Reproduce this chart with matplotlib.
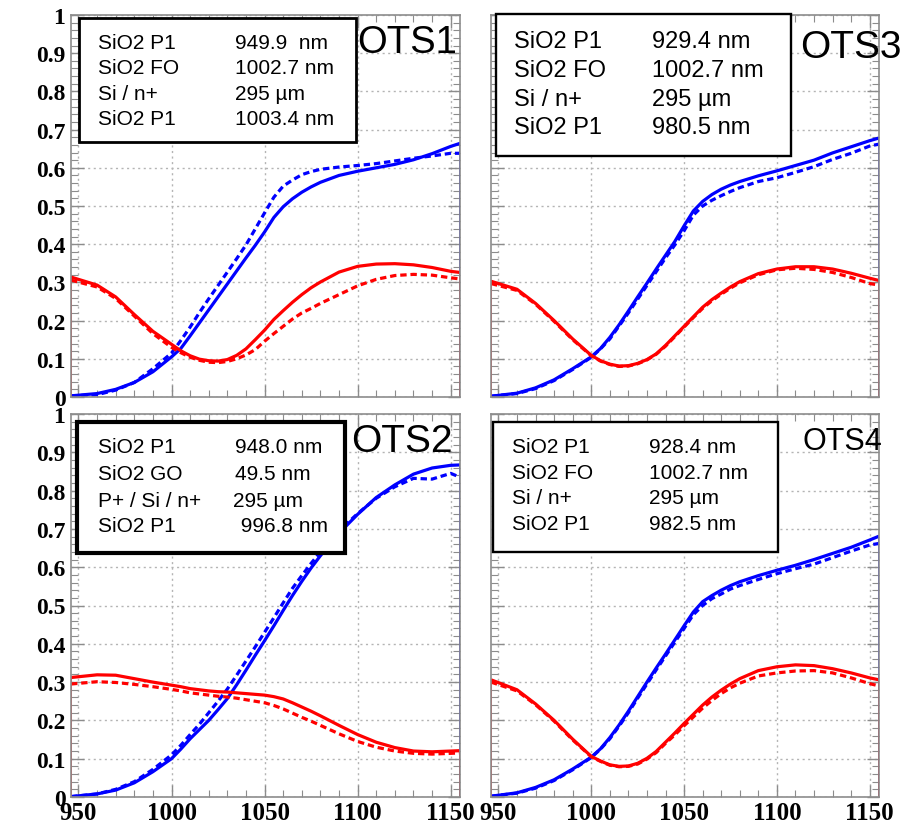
import numpy as np
import matplotlib
matplotlib.use("Agg")
import matplotlib.pyplot as plt
from matplotlib.patches import Rectangle
from matplotlib.ticker import MultipleLocator

plt.rcParams['font.family'] = ['Liberation Sans', 'DejaVu Sans']

# ---------------- data ----------------
wavelength = [946, 960, 970, 980, 990, 1000, 1005, 1010, 1015, 1020, 1025, 1030, 1035, 1040, 1045,
              1050, 1055, 1060, 1065, 1070, 1075, 1080, 1090, 1100, 1110, 1120, 1130, 1140, 1150, 1155]

# OTS1 (top left)
ots1_blue_solid = [0.003, 0.009, 0.020, 0.038, 0.066, 0.105, 0.127, 0.160, 0.194, 0.228, 0.262, 0.296, 0.330, 0.364, 0.397,
                   0.432, 0.470, 0.498, 0.519, 0.536, 0.550, 0.562, 0.580, 0.591, 0.600, 0.609, 0.621, 0.637, 0.656, 0.664]
ots1_blue_dashed = [0.003, 0.006, 0.018, 0.038, 0.074, 0.115, 0.148, 0.183, 0.221, 0.257, 0.292, 0.327, 0.362, 0.398, 0.440,
                    0.482, 0.523, 0.552, 0.568, 0.582, 0.590, 0.596, 0.602, 0.606, 0.611, 0.618, 0.625, 0.631, 0.638, 0.638]
ots1_red_solid = [0.314, 0.293, 0.262, 0.216, 0.172, 0.138, 0.121, 0.108, 0.099, 0.095, 0.094, 0.098, 0.109, 0.126, 0.150,
                  0.175, 0.203, 0.226, 0.248, 0.268, 0.286, 0.301, 0.327, 0.342, 0.348, 0.349, 0.346, 0.339, 0.329, 0.326]
ots1_red_dashed = [0.306, 0.288, 0.258, 0.212, 0.166, 0.130, 0.116, 0.104, 0.096, 0.091, 0.090, 0.093, 0.100, 0.110, 0.124,
                   0.146, 0.166, 0.185, 0.204, 0.220, 0.232, 0.245, 0.268, 0.291, 0.308, 0.318, 0.321, 0.319, 0.312, 0.309]

# OTS3 (top right)
ots3_blue_solid = [0.002, 0.010, 0.024, 0.045, 0.074, 0.105, 0.127, 0.156, 0.189, 0.225, 0.262, 0.298, 0.335, 0.371, 0.407,
                   0.448, 0.487, 0.512, 0.530, 0.544, 0.555, 0.564, 0.579, 0.592, 0.606, 0.620, 0.639, 0.655, 0.671, 0.678]
ots3_blue_dashed = [0.002, 0.009, 0.022, 0.043, 0.072, 0.104, 0.126, 0.152, 0.186, 0.220, 0.256, 0.292, 0.328, 0.364, 0.398,
                    0.435, 0.476, 0.500, 0.515, 0.527, 0.538, 0.548, 0.564, 0.574, 0.588, 0.603, 0.622, 0.638, 0.657, 0.662]
ots3_red_solid = [0.303, 0.282, 0.245, 0.200, 0.152, 0.109, 0.095, 0.086, 0.081, 0.082, 0.088, 0.098, 0.113, 0.135, 0.160,
                  0.185, 0.210, 0.235, 0.255, 0.272, 0.288, 0.302, 0.323, 0.335, 0.341, 0.341, 0.335, 0.324, 0.311, 0.305]
ots3_red_dashed = [0.297, 0.279, 0.243, 0.198, 0.150, 0.108, 0.094, 0.085, 0.080, 0.081, 0.087, 0.097, 0.112, 0.133, 0.158,
                   0.183, 0.208, 0.232, 0.252, 0.269, 0.285, 0.299, 0.320, 0.333, 0.337, 0.334, 0.326, 0.313, 0.297, 0.293]

# OTS2 (bottom left)
ots2_blue_solid = [0.001, 0.008, 0.018, 0.037, 0.066, 0.100, 0.125, 0.152, 0.176, 0.200, 0.228, 0.257, 0.293, 0.331, 0.370,
                   0.408, 0.447, 0.487, 0.526, 0.563, 0.598, 0.630, 0.689, 0.738, 0.782, 0.815, 0.843, 0.859, 0.866, 0.867]
ots2_blue_dashed = [0.001, 0.008, 0.020, 0.040, 0.072, 0.110, 0.135, 0.163, 0.190, 0.220, 0.250, 0.282, 0.318, 0.355, 0.392,
                    0.430, 0.468, 0.507, 0.545, 0.578, 0.610, 0.640, 0.695, 0.740, 0.780, 0.810, 0.832, 0.830, 0.845, 0.835]
ots2_red_solid = [0.312, 0.319, 0.318, 0.309, 0.300, 0.292, 0.288, 0.283, 0.280, 0.277, 0.275, 0.274, 0.272, 0.270, 0.268,
                  0.266, 0.262, 0.256, 0.246, 0.235, 0.224, 0.212, 0.187, 0.163, 0.143, 0.129, 0.120, 0.118, 0.120, 0.121]
ots2_red_dashed = [0.295, 0.301, 0.299, 0.294, 0.288, 0.281, 0.277, 0.272, 0.269, 0.266, 0.263, 0.261, 0.258, 0.254, 0.250,
                   0.246, 0.239, 0.230, 0.219, 0.208, 0.198, 0.187, 0.165, 0.145, 0.130, 0.120, 0.114, 0.112, 0.114, 0.115]

# OTS4 (bottom right)
ots4_blue_solid = [0.002, 0.011, 0.025, 0.045, 0.073, 0.104, 0.126, 0.155, 0.188, 0.224, 0.262, 0.300, 0.337, 0.373, 0.410,
                   0.447, 0.483, 0.510, 0.526, 0.540, 0.552, 0.562, 0.578, 0.592, 0.605, 0.620, 0.636, 0.652, 0.671, 0.681]
ots4_blue_dashed = [0.002, 0.010, 0.023, 0.043, 0.071, 0.103, 0.125, 0.152, 0.185, 0.220, 0.258, 0.295, 0.332, 0.368, 0.404,
                    0.440, 0.476, 0.500, 0.518, 0.530, 0.543, 0.552, 0.568, 0.583, 0.596, 0.608, 0.625, 0.642, 0.658, 0.662]
ots4_red_solid = [0.306, 0.280, 0.243, 0.200, 0.151, 0.106, 0.094, 0.084, 0.080, 0.081, 0.088, 0.101, 0.119, 0.143, 0.167,
                  0.192, 0.216, 0.240, 0.261, 0.279, 0.295, 0.309, 0.330, 0.340, 0.345, 0.343, 0.335, 0.324, 0.311, 0.306]
ots4_red_dashed = [0.300, 0.277, 0.241, 0.198, 0.149, 0.105, 0.093, 0.083, 0.079, 0.080, 0.086, 0.099, 0.116, 0.140, 0.162,
                   0.186, 0.209, 0.232, 0.252, 0.270, 0.285, 0.297, 0.316, 0.324, 0.329, 0.330, 0.324, 0.311, 0.296, 0.290]

# legends
ots1_layers = ["SiO2 P1", "SiO2 FO", "Si / n+", "SiO2 P1"]
ots1_values = ["949.9  nm", "1002.7 nm", "295 µm", "1003.4 nm"]
ots3_layers = ["SiO2 P1", "SiO2 FO", "Si / n+", "SiO2 P1"]
ots3_values = ["929.4 nm", "1002.7 nm", "295 µm", "980.5 nm"]
ots2_layers = ["SiO2 P1", "SiO2 GO", "P+ / Si / n+", "SiO2 P1"]
ots2_values = ["948.0 nm", "49.5 nm", "295 µm", " 996.8 nm"]
ots4_layers = ["SiO2 P1", "SiO2 FO", "Si / n+", "SiO2 P1"]
ots4_values = ["928.4 nm", "1002.7 nm", "295 µm", "982.5 nm"]

y_ticks = [0, 0.1, 0.2, 0.3, 0.4, 0.5, 0.6, 0.7, 0.8, 0.9, 1.0]
y_tick_labels = ["0", "0.1", "0.2", "0.3", "0.4", "0.5", "0.6", "0.7", "0.8", "0.9", "1"]
x_ticks = [950, 1000, 1050, 1100, 1150]
x_tick_labels = ["950", "1000", "1050", "1100", "1150"]

# ---------------- layout ----------------
W, H = 914, 829
fig = plt.figure(figsize=(W / 100, H / 100), dpi=100)


def fx(px):
    return px / W


def fy(py):
    return 1 - py / H


BLUE = (0, 0, 1)
RED = (1, 0, 0)
FRAME = '#8c8c8c'
DASH = (0, (2.0, 1.2))


def make_panel(box, blue_s, blue_d, red_s, red_d, left_labels, bottom_labels):
    l, t, r, b = box
    ax = fig.add_axes([fx(l), fy(b), (r - l) / W, (b - t) / H])
    ax.set_xlim(946, 1155)
    ax.set_ylim(0, 1)
    ax.set_xticks(x_ticks)
    ax.set_yticks(y_ticks)
    ax.xaxis.set_minor_locator(MultipleLocator(10))
    ax.yaxis.set_minor_locator(MultipleLocator(0.02))
    ax.grid(True, which='major', color='#b4b4b4', linestyle=(0, (1.5, 2.5)), linewidth=1.0)
    ax.set_axisbelow(True)
    for s in ax.spines.values():
        s.set_color(FRAME)
        s.set_linewidth(1.2)
    ax.tick_params(which='both', direction='in', top=True, right=True, color=FRAME)
    ax.tick_params(which='major', length=9, width=1.0)
    ax.tick_params(which='minor', length=5, width=0.8)
    if left_labels:
        ax.set_yticklabels(y_tick_labels, fontfamily='Liberation Serif', fontweight='bold', fontsize=17)
        ax.tick_params(axis='y', pad=4)
    else:
        ax.tick_params(axis='y', labelleft=False)
    if bottom_labels:
        ax.set_xticklabels(x_tick_labels, fontfamily='Liberation Serif', fontweight='bold', fontsize=18)
        ax.tick_params(axis='x', pad=3)
    else:
        ax.tick_params(axis='x', labelbottom=False)

    x = np.array(wavelength)
    lw = 2.3
    ax.plot(x, blue_s, color=BLUE, lw=lw, solid_capstyle='butt', solid_joinstyle='round')
    ax.plot(x, blue_d, color=BLUE, lw=lw, linestyle=DASH)
    ax.plot(x, red_s, color=RED, lw=lw, solid_capstyle='butt', solid_joinstyle='round')
    ax.plot(x, red_d, color=RED, lw=lw, linestyle=DASH)
    # histogram edges dropping to zero
    ax.plot([x[0], x[0]], [0, blue_s[0]], color=BLUE, lw=1.4, alpha=0.8)
    ax.plot([x[0], x[0]], [0, red_s[0]], color=RED, lw=1.4, alpha=0.8)
    ax.plot([x[-1], x[-1]], [0, blue_s[-1]], color=BLUE, lw=1.4, alpha=0.8)
    ax.plot([x[-1], x[-1]], [0, red_s[-1]], color=RED, lw=1.4, alpha=0.8)
    return ax


make_panel((71, 16, 460, 398), ots1_blue_solid, ots1_blue_dashed, ots1_red_solid, ots1_red_dashed, True, False)
make_panel((491, 16, 879, 398), ots3_blue_solid, ots3_blue_dashed, ots3_red_solid, ots3_red_dashed, False, False)
make_panel((71, 415, 460, 798), ots2_blue_solid, ots2_blue_dashed, ots2_red_solid, ots2_red_dashed, True, True)
make_panel((491, 415, 879, 798), ots4_blue_solid, ots4_blue_dashed, ots4_red_solid, ots4_red_dashed, False, True)


def legend_box(box, lw, layers, values, col1, col2, rows, size, value_x=None):
    l, t, r, b = box
    rect = Rectangle((fx(l), fy(b)), (r - l) / W, (b - t) / H, transform=fig.transFigure,
                     facecolor='white', edgecolor='black', linewidth=lw, zorder=10)
    fig.patches.append(rect)
    size_px = size * 100 / 72
    for i, (lay, val) in enumerate(zip(layers, values)):
        base = rows[i] + 0.358 * size_px
        fig.text(fx(col1), fy(base), lay, fontsize=size, ha='left', va='baseline', zorder=11)
        vx = col2 if value_x is None else value_x[i]
        fig.text(fx(vx), fy(base), val, fontsize=size, ha='left', va='baseline', zorder=11)


legend_box((79, 19, 356, 143), 2.0, ots1_layers, ots1_values, 98, 235, [42, 67, 93, 118], 15)
legend_box((496, 15, 791, 157), 1.7, ots3_layers, ots3_values, 514, 652, [40, 69, 98, 126], 17)
legend_box((77, 423, 345, 554), 3.0, ots2_layers, ots2_values, 98, 235, [446, 473, 500, 525], 15,
           value_x=[235, 235, 233, 235])
legend_box((493, 423, 778, 553), 1.7, ots4_layers, ots4_values, 512, 649, [446, 472, 497, 523], 15)


def title(px, pycenter, text, size):
    size_px = size * 100 / 72
    fig.text(fx(px), fy(pycenter + 0.358 * size_px), text, fontsize=size, ha='left', va='baseline', zorder=12)


title(357, 39, "OTS1", 27.5)
title(800, 44, "OTS3", 28)
title(351, 438, "OTS2", 28)
title(803, 439, "OTS4", 22)

fig.savefig("out.png", dpi=100)
